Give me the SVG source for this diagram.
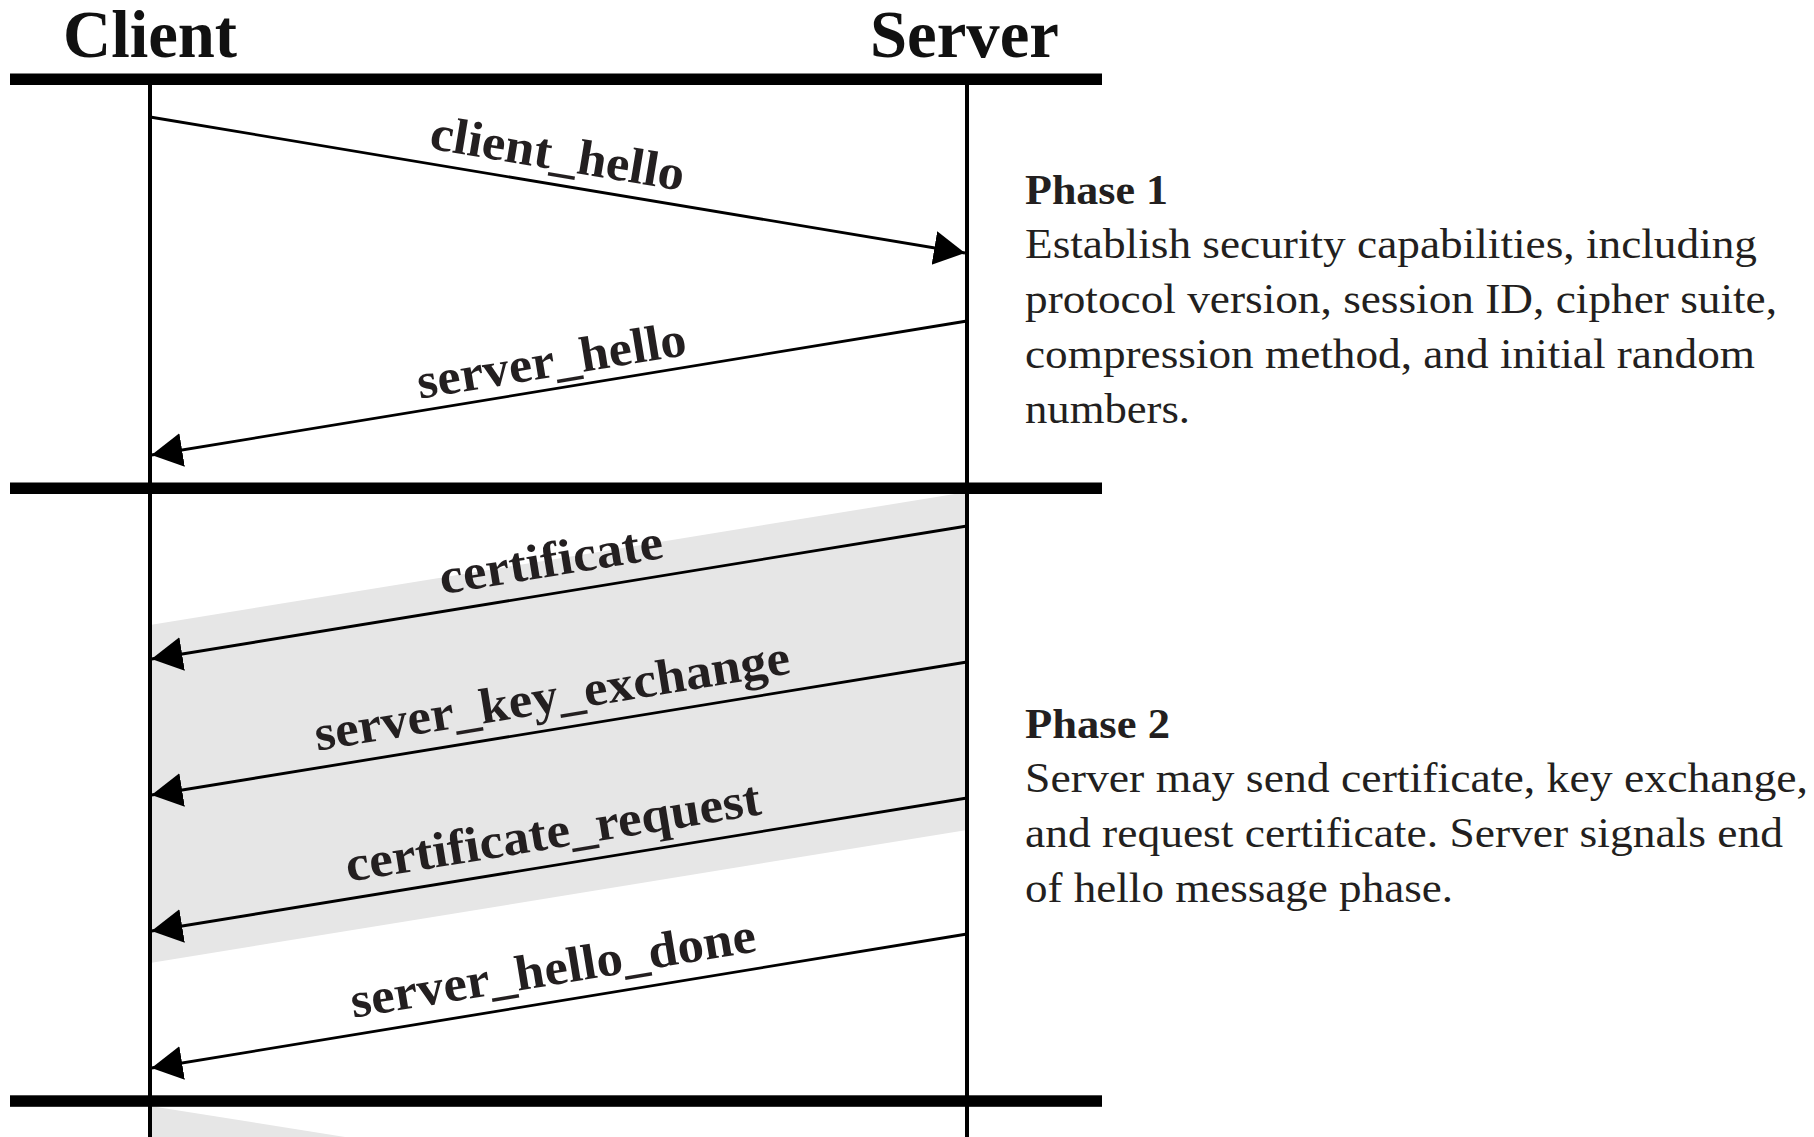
<svg xmlns="http://www.w3.org/2000/svg" width="1814" height="1137" viewBox="0 0 1814 1137">
  <style>
    .title { font-family: "Liberation Serif", "Times New Roman", serif; font-weight: bold; font-size: 67px; fill: #111; }
    .lbl { font-family: "Liberation Serif", "Times New Roman", serif; font-weight: bold; font-size: 50px; fill: #231f20; text-anchor: middle; }
    .ph { font-family: "Liberation Serif", "Times New Roman", serif; font-weight: bold; font-size: 43px; fill: #231f20; }
    .desc { font-family: "Liberation Serif", "Times New Roman", serif; font-size: 43px; fill: #231f20; }
    .bar { fill: #000; }
    .life { stroke: #000; stroke-width: 4; fill: none; }
    .msg { stroke: #000; stroke-width: 2.8; fill: none; marker-end: url(#ah); }
    .band { fill: #e6e6e6; }
  </style>
  <defs>
    <marker id="ah" markerUnits="userSpaceOnUse" markerWidth="32" markerHeight="36" viewBox="0 0 32 36" refX="31" refY="18" orient="auto">
      <path d="M0,1 L31,18 L0,35 Z" fill="#000"/>
    </marker>
  </defs>
  <rect width="1814" height="1137" fill="#fff"/>

  <g id="bands">
    <polygon class="band" points="150,625 967,492 967,830 150,963"/>
    <polygon class="band" points="150,1106 345,1137 150,1137"/>
  </g>

  <g id="phase-bars">
    <rect class="bar" x="10" y="73.5" width="1092" height="11.5"/>
    <rect class="bar" x="10" y="482.5" width="1092" height="11.5"/>
    <rect class="bar" x="10" y="1095.3" width="1092" height="11.5"/>
  </g>

  <g id="client">
    <text class="title" x="63" y="57" textLength="174" lengthAdjust="spacingAndGlyphs">Client</text>
    <line class="life" x1="150" y1="80" x2="150" y2="1137"/>
  </g>

  <g id="server">
    <text class="title" x="870" y="57" textLength="189" lengthAdjust="spacingAndGlyphs">Server</text>
    <line class="life" x1="967" y1="80" x2="967" y2="1137"/>
  </g>

  <g id="connectors">
    <line class="msg" x1="150" y1="117" x2="965" y2="253"/>
    <line class="msg" x1="967" y1="321" x2="151.5" y2="455"/>
    <line class="msg" x1="967" y1="526" x2="151.5" y2="659"/>
    <line class="msg" x1="967" y1="662" x2="151.5" y2="795"/>
    <line class="msg" x1="967" y1="798" x2="151.5" y2="931"/>
    <line class="msg" x1="967" y1="934" x2="151.5" y2="1068"/>
  </g>

  <g id="connector-labels">
    <text class="lbl" transform="translate(555,169.6) rotate(9.47)" textLength="257" lengthAdjust="spacingAndGlyphs">client_hello</text>
    <text class="lbl" transform="translate(554,376.7) rotate(-9.33)" textLength="272" lengthAdjust="spacingAndGlyphs">server_hello</text>
    <text class="lbl" transform="translate(553.5,576) rotate(-9.26)" textLength="226" lengthAdjust="spacingAndGlyphs">certificate</text>
    <text class="lbl" transform="translate(554.5,712) rotate(-9.26)" textLength="481" lengthAdjust="spacingAndGlyphs">server_key_exchange</text>
    <text class="lbl" transform="translate(555.5,848) rotate(-9.26)" textLength="420" lengthAdjust="spacingAndGlyphs">certificate_request</text>
    <text class="lbl" transform="translate(555.5,984.5) rotate(-9.33)" textLength="410" lengthAdjust="spacingAndGlyphs">server_hello_done</text>
  </g>

  <g id="phase1-note">
    <text class="ph" x="1025" y="204" textLength="143" lengthAdjust="spacingAndGlyphs">Phase 1</text>
    <text class="desc" x="1025" y="258" textLength="732" lengthAdjust="spacingAndGlyphs">Establish security capabilities, including</text>
    <text class="desc" x="1025" y="313" textLength="752" lengthAdjust="spacingAndGlyphs">protocol version, session ID, cipher suite,</text>
    <text class="desc" x="1025" y="368" textLength="730" lengthAdjust="spacingAndGlyphs">compression method, and initial random</text>
    <text class="desc" x="1025" y="423" textLength="165" lengthAdjust="spacingAndGlyphs">numbers.</text>
  </g>

  <g id="phase2-note">
    <text class="ph" x="1025" y="738" textLength="145" lengthAdjust="spacingAndGlyphs">Phase 2</text>
    <text class="desc" x="1025" y="792" textLength="783" lengthAdjust="spacingAndGlyphs">Server may send certificate, key exchange,</text>
    <text class="desc" x="1025" y="847" textLength="758" lengthAdjust="spacingAndGlyphs">and request certificate. Server signals end</text>
    <text class="desc" x="1025" y="902" textLength="428" lengthAdjust="spacingAndGlyphs">of hello message phase.</text>
  </g>
</svg>
